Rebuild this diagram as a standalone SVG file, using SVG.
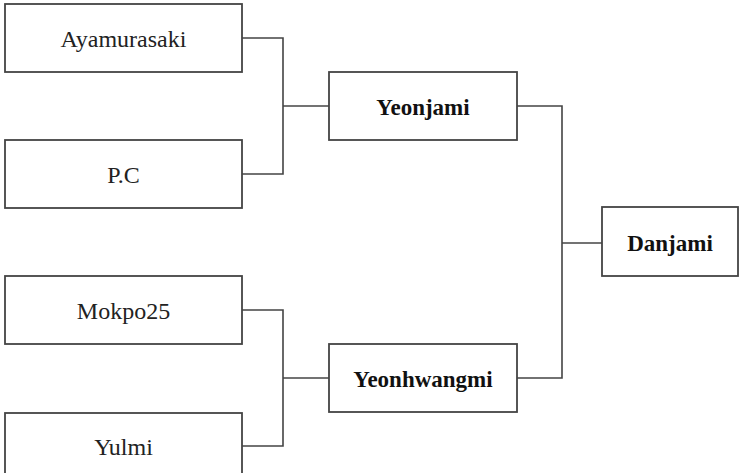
<svg xmlns="http://www.w3.org/2000/svg" width="748" height="473" viewBox="0 0 748 473">
<style>
.box{fill:#fff;stroke:#444;stroke-width:1.8}
.t{font-family:"Liberation Serif","Times New Roman",serif;font-size:24px;fill:#222;text-anchor:middle}
.b{font-weight:bold;font-size:23px;fill:#111}
.c{fill:none;stroke:#444;stroke-width:1.6}
</style>
<rect width="748" height="473" fill="#fff"/>
<g id="connectors">
<polyline class="c" points="242,38 283,38 283,174 242,174"/>
<line class="c" x1="283" y1="106" x2="329" y2="106"/>
<polyline class="c" points="242,310 283,310 283,446 242,446"/>
<line class="c" x1="283" y1="378" x2="329" y2="378"/>
<polyline class="c" points="517,106 562,106 562,378 517,378"/>
<line class="c" x1="562" y1="243" x2="602" y2="243"/>
</g>
<g id="ayamurasaki"><rect class="box" x="5" y="4" width="237" height="68"/><text class="t" x="123.5" y="47">Ayamurasaki</text></g>
<g id="pc"><rect class="box" x="5" y="140" width="237" height="68"/><text class="t" x="123.5" y="183">P.C</text></g>
<g id="mokpo25"><rect class="box" x="5" y="276" width="237" height="68"/><text class="t" x="123.5" y="319">Mokpo25</text></g>
<g id="yulmi"><rect class="box" x="5" y="413" width="237" height="68"/><text class="t" x="123.5" y="455">Yulmi</text></g>
<g id="yeonjami"><rect class="box" x="329" y="72" width="188" height="68"/><text class="t b" x="423" y="115">Yeonjami</text></g>
<g id="yeonhwangmi"><rect class="box" x="329" y="344" width="188" height="68"/><text class="t b" x="423" y="387">Yeonhwangmi</text></g>
<g id="danjami"><rect class="box" x="602" y="207" width="136" height="69"/><text class="t b" x="670" y="251">Danjami</text></g>
</svg>
